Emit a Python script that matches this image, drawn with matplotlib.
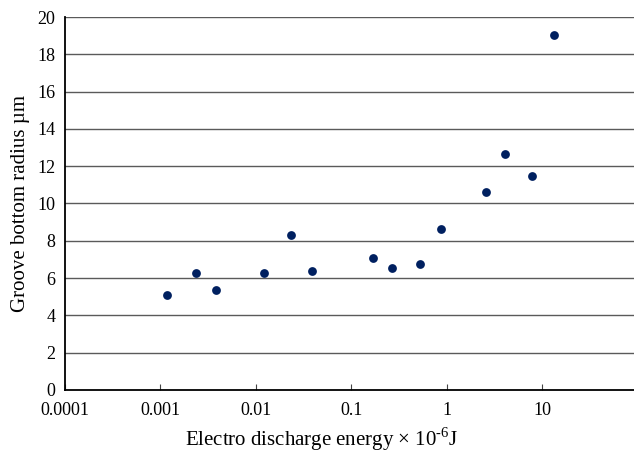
import matplotlib
matplotlib.use("Agg")
import numpy as np
from matplotlib import pyplot as plt
from matplotlib.ticker import FixedLocator, FixedFormatter, NullLocator

# data
energy = [0.00116, 0.00234, 0.0038, 0.0121, 0.0234, 0.039, 0.17, 0.27,
          0.52, 0.87, 2.6, 4.1, 7.9, 13.4]
radius = [5.07, 6.28, 5.38, 6.28, 8.3, 6.38, 7.1, 6.56, 6.78, 8.65,
          10.6, 12.65, 11.47, 19.05]

x_ticks = [0.0001, 0.001, 0.01, 0.1, 1, 10]
x_labels = ["0.0001", "0.001", "0.01", "0.1", "1", "10"]
y_ticks = list(range(0, 21, 2))

plt.rcParams["font.family"] = ["Liberation Serif", "DejaVu Serif"]
plt.rcParams["mathtext.fontset"] = "custom"
plt.rcParams["mathtext.rm"] = "Liberation Serif"

fig = plt.figure(figsize=(6.34, 4.55), dpi=100)
ax = fig.add_axes([0.1025, 0.143, 0.897, 0.8195])

ax.set_xscale("log")
ax.set_xlim(1e-4, 10 ** 1.96)
ax.set_ylim(0, 20)

for yv in y_ticks[1:]:
    ax.axhline(yv, color="#5a5a5a", linewidth=1.0, zorder=1)

ax.scatter(energy, radius, s=40, color="#002060", zorder=3, linewidths=0)

ax.xaxis.set_major_locator(FixedLocator(x_ticks))
ax.xaxis.set_major_formatter(FixedFormatter(x_labels))
ax.xaxis.set_minor_locator(NullLocator())
ax.set_yticks(y_ticks)
ax.tick_params(axis="x", direction="in", length=4, width=0.8, color="#444444",
               labelsize=13, pad=9)
ax.tick_params(axis="y", length=0, labelsize=13, pad=7)

ax.spines["top"].set_visible(False)
ax.spines["right"].set_visible(False)
ax.spines["left"].set_linewidth(1.3)
ax.spines["bottom"].set_linewidth(1.3)

ax.set_xlabel(r"Electro discharge energy $\times$ 10$^{\text{-6}}$J", fontsize=15)
ax.xaxis.set_label_coords(0.452, -0.095)
ax.set_ylabel("Groove bottom radius µm", fontsize=15, labelpad=5)

plt.savefig("out.png", dpi=100)
